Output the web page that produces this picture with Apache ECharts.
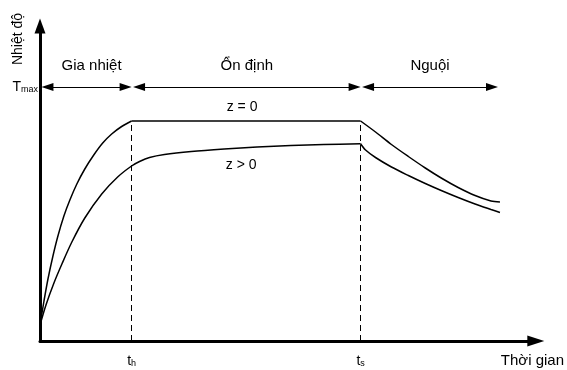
<!DOCTYPE html>
<html>
<head>
<meta charset="utf-8">
<script src="https://cdn.jsdelivr.net/npm/echarts@6/dist/echarts.min.js"></script>
<style>
html, body { margin: 0; padding: 0; background: #fff; }
#chart { width: 567px; height: 370px; }
</style>
</head>
<body>
<div id="chart"></div>
<script>
// moc thoi gian va nhiet do (don vi tuy y)
const tH = 92
const tS = 322
const tEnd = 460
const tMax = 254
const phaseBounds = [0, tH, tS, tEnd]
const phaseNames = ["Gia nhiệt", "Ổn định", "Nguội"]

// z = 0
const z0Rise = [[0, 16], [4, 40], [8, 62], [13, 85], [18, 105], [24, 125], [30, 141], [37, 157], [45, 172], [54, 186], [63, 198], [72, 207], [82, 214.5], [92, 220]]
const z0Flat = [[tH, 220], [tS, 220]]
const z0Fall = [[322, 220], [337, 209], [353, 196.5], [370, 184.5], [387, 173], [403, 163], [420, 153.5], [437, 145.5], [453, 140], [462, 139]]

// z > 0
const zpRise = [[0, 16], [6, 36], [14, 58], [22, 77], [32, 99], [45, 123], [62, 147], [78, 164], [92, 175], [100, 179.5], [110, 183.5], [125, 186.5], [152, 189.5], [185, 192], [218, 194], [252, 195.5], [285, 196.5], [322, 197.3]]
const zpFall = [[322, 197.3], [327, 191], [337, 183.5], [353, 174], [370, 165.5], [387, 157.5], [403, 150.5], [420, 143.5], [437, 137], [453, 131.5], [462, 128.5]]

const font = "Liberation Sans, Arial, sans-serif"
const black = "#000"

let myChart = echarts.init(document.getElementById("chart"), null, { renderer: "canvas" })

function curve(data, smooth){
    return {
        type: "line",
        data: data,
        smooth: smooth,
        showSymbol: false,
        silent: true,
        lineStyle: { color: black, width: 1.5 }
    }
}

// mui ten giai doan
let head = 12
let phaseLines = phaseNames.map((name, i) => {
    let a = phaseBounds[i] + 1.5 + head / 2
    let b = phaseBounds[i + 1] - head / 2
    return [
        {
            coord: [a, tMax],
            label: {
                show: true,
                formatter: name,
                position: "insideMiddleTop",
                distance: 14,
                padding: i === 0 ? [0, 0, 0, 10] : 0,
                color: black,
                fontSize: 15,
                fontFamily: font
            }
        },
        { coord: [b, tMax] }
    ]
})

let dashLines = [tH, tS].map(t => [
    { coord: [t, 0], symbol: "none", lineStyle: { type: [6, 4], width: 1, color: black }, label: { show: false } },
    { coord: [t, 220], symbol: "none" }
])

let flat = curve(z0Flat, false)
flat.markLine = {
    silent: true,
    animation: false,
    symbol: ["triangle", "triangle"],
    symbolSize: [8, head],
    lineStyle: { color: black, width: 1, type: "solid" },
    label: { show: false },
    data: phaseLines.concat(dashLines)
}
flat.markPoint = {
    silent: true,
    animation: false,
    symbol: "circle",
    symbolSize: 0,
    label: { show: true, position: "inside", color: black, fontSize: 14, fontFamily: font },
    data: [
        { coord: [203, 234], label: { formatter: "z = 0" } },
        { coord: [202, 175.5], label: { formatter: "z > 0" } }
    ]
}

let option = {
    animation: false,
    backgroundColor: "#fff",
    grid: { left: 40, top: 26, width: 498, height: 315 },
    xAxis: {
        type: "value",
        min: 0,
        max: 498,
        splitLine: { show: false },
        axisTick: { show: false },
        axisLine: {
            show: true,
            onZero: false,
            lineStyle: { color: black, width: 3 },
            symbol: ["none", "triangle"],
            symbolSize: [11, 17]
        },
        axisLabel: {
            customValues: [tH, tS],
            margin: 13,
            formatter: v => v === tH ? "{t|t}{s|h}" : "{t|t}{s|s}",
            rich: {
                t: { fontSize: 14, color: black, fontFamily: font },
                s: { fontSize: 9, color: black, fontFamily: font, verticalAlign: "bottom" }
            }
        },
        name: "Thời gian",
        nameLocation: "end",
        nameGap: -35,
        nameTextStyle: { color: black, fontSize: 15, fontFamily: font, verticalAlign: "top", align: "left", padding: [12, 0, 0, 0] }
    },
    yAxis: {
        type: "value",
        min: 0,
        max: 315,
        splitLine: { show: false },
        axisTick: { show: false },
        axisLine: {
            show: true,
            onZero: false,
            lineStyle: { color: black, width: 3 },
            symbol: ["none", "triangle"],
            symbolSize: [11, 15]
        },
        axisLabel: {
            customValues: [tMax],
            margin: 2,
            formatter: () => "{t|T}{m|max}",
            rich: {
                t: { fontSize: 14, color: black, fontFamily: font },
                m: { fontSize: 9, color: black, fontFamily: font, verticalAlign: "bottom" }
            }
        },
        name: "Nhiệt độ",
        nameLocation: "end",
        nameRotate: 90,
        nameGap: -13,
        nameTextStyle: { color: black, fontSize: 14, fontFamily: font, align: "center", verticalAlign: "bottom", padding: [0, 0, 15, 0] }
    },
    series: [
        curve(z0Rise, 0.3),
        flat,
        curve(z0Fall, 0.3),
        curve(zpRise, 0.3),
        curve(zpFall, 0.3)
    ]
}
myChart.setOption(option)
</script>
</body>
</html>
